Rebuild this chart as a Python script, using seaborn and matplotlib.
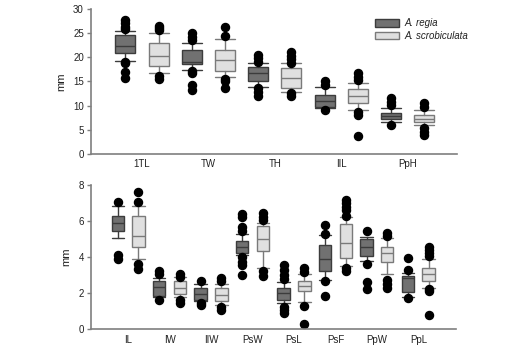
import numpy as np
import matplotlib
matplotlib.use("Agg")
import matplotlib.pyplot as plt
from matplotlib.patches import Patch
import seaborn as sns

sns.set_style("white")
plt.rcParams['font.family'] = ['Liberation Sans', 'DejaVu Sans']

# ---- top panel: box summaries (mm) ----
top_cats = ['1TL', 'TW', 'TH', 'IIL', 'PpH']

regia_top_lo = [19.2, 17.4, 13.9, 9.5, 6.7]
regia_top_q1 = [20.8, 18.5, 15.0, 9.8, 7.2]
regia_top_med = [22.3, 19.1, 16.7, 11.0, 7.9]
regia_top_q3 = [24.5, 21.4, 17.9, 12.2, 8.5]
regia_top_hi = [25.4, 23.0, 18.7, 13.9, 9.5]
regia_top_out = [[25.8, 26.3, 27.0, 27.6, 19.1, 18.7, 17.0, 15.7],
                 [23.5, 24.2, 24.9, 17.1, 16.8, 14.3, 13.2],
                 [19.1, 19.8, 20.5, 13.6, 12.9, 11.9],
                 [14.3, 15.0, 9.1],
                 [10.1, 10.8, 11.5, 6.0]]

scrob_top_lo = [16.8, 15.9, 12.9, 9.1, 6.0]
scrob_top_q1 = [18.1, 17.2, 13.7, 10.5, 6.5]
scrob_top_med = [20.3, 19.4, 15.7, 11.9, 7.2]
scrob_top_q3 = [22.9, 21.5, 17.7, 13.4, 8.1]
scrob_top_hi = [25.0, 23.8, 18.8, 14.6, 9.1]
scrob_top_out = [[25.6, 26.1, 26.5, 16.2, 15.5],
                 [26.3, 24.3, 15.5, 15.0, 13.6],
                 [21.0, 20.3, 19.6, 18.9, 12.6, 11.9],
                 [16.7, 16.0, 15.3, 8.7, 8.1, 3.8],
                 [10.5, 9.8, 5.3, 4.6, 3.9]]

# ---- bottom panel ----
bot_cats = ['IL', 'IW', 'IIW', 'PsW', 'PsL', 'PsF', 'PpW', 'PpL']

regia_bot_lo = [5.03, 1.80, 1.58, 4.11, 1.44, 2.73, 3.78, 1.80]
regia_bot_q1 = [5.45, 1.87, 1.62, 4.20, 1.62, 3.22, 4.07, 2.05]
regia_bot_med = [5.86, 2.32, 1.95, 4.57, 1.99, 3.89, 4.53, 2.82]
regia_bot_q3 = [6.26, 2.65, 2.31, 4.89, 2.27, 4.66, 4.98, 2.95]
regia_bot_hi = [6.84, 2.86, 2.51, 5.28, 2.63, 5.22, 5.12, 3.13]
regia_bot_out = [[7.04, 4.10, 3.90],
                 [3.22, 3.04, 1.60],
                 [2.69, 1.44, 1.36],
                 [6.38, 6.20, 5.64, 5.46, 3.98, 3.74, 3.56, 3.00],
                 [3.56, 3.28, 3.00, 2.80, 1.25, 1.07, 0.88],
                 [5.77, 5.25, 2.70, 1.86],
                 [5.44, 3.59, 2.63, 2.21],
                 [3.96, 3.28, 1.71]]

scrob_bot_lo = [3.88, 1.77, 1.36, 3.41, 1.53, 3.52, 3.04, 2.30]
scrob_bot_q1 = [4.53, 1.95, 1.58, 4.33, 2.12, 3.96, 3.70, 2.69]
scrob_bot_med = [5.17, 2.30, 1.92, 4.98, 2.41, 4.79, 4.20, 3.04]
scrob_bot_q3 = [6.26, 2.65, 2.31, 5.71, 2.69, 5.81, 4.53, 3.37]
scrob_bot_hi = [6.84, 2.87, 2.51, 5.90, 3.04, 6.19, 5.03, 3.87]
scrob_bot_out = [[7.57, 7.04, 3.63, 3.34],
                 [3.06, 2.92, 1.62, 1.48],
                 [2.85, 2.66, 1.25, 1.05],
                 [6.41, 6.23, 6.04, 3.22, 2.95],
                 [3.37, 3.15, 1.31, 0.28],
                 [7.15, 6.97, 6.78, 6.60, 6.25, 3.37, 3.22],
                 [5.34, 5.15, 2.73, 2.51, 2.30],
                 [4.57, 4.39, 4.20, 4.05, 2.23, 2.10, 0.79]]

species = ['A. regia', 'A. scrobiculata']
fills = ['#717171', '#e0e0e0']
edges = ['#3c3c3c', '#7a7a7a']
axis_col = '#7f7f7f'


def make_stats(lo, q1, med, q3, hi, out):
    return [dict(whislo=a, q1=b, med=c, q3=d, whishi=e, fliers=f)
            for a, b, c, d, e, f in zip(lo, q1, med, q3, hi, out)]


def draw_panel(ax, cats, groups, ylim, yticks):
    x = np.arange(len(cats))
    for k, (stats, off) in enumerate(zip(groups, [-0.25, 0.25])):
        ax.bxp(stats, positions=x + off, widths=0.3, patch_artist=True,
               capwidths=0.3, manage_ticks=False,
               boxprops=dict(facecolor=fills[k], edgecolor=edges[k], linewidth=1),
               medianprops=dict(color=edges[k], linewidth=1),
               whiskerprops=dict(color=edges[k], linewidth=1),
               capprops=dict(color=edges[k], linewidth=1),
               flierprops=dict(marker='o', markerfacecolor='black',
                               markeredgecolor='black', markersize=5.8))
    ax.set_xticks(x)
    ax.set_xticklabels(cats)
    ax.set_ylim(*ylim)
    ax.set_yticks(yticks)
    ax.set_ylabel('mm', fontsize=8, color='#222222', labelpad=5)
    sns.despine(ax=ax)
    for s in ['left', 'bottom']:
        ax.spines[s].set_color(axis_col)
        ax.spines[s].set_linewidth(1.2)
    ax.tick_params(axis='x', length=0, pad=4, labelsize=7, colors='#222222')
    ax.tick_params(axis='y', length=3, width=1, color=axis_col, pad=2,
                   labelsize=7, labelcolor='#222222', left=True)


fig = plt.figure(figsize=(5.28, 3.53), dpi=100)
ax1 = fig.add_axes([0.172, 0.564, 0.693, 0.411])
ax2 = fig.add_axes([0.172, 0.067, 0.691, 0.410])

draw_panel(ax1, top_cats,
           [make_stats(regia_top_lo, regia_top_q1, regia_top_med, regia_top_q3, regia_top_hi, regia_top_out),
            make_stats(scrob_top_lo, scrob_top_q1, scrob_top_med, scrob_top_q3, scrob_top_hi, scrob_top_out)],
           (0, 30), [0, 5, 10, 15, 20, 25, 30])
ax1.set_xlim(-0.77, 4.74)

draw_panel(ax2, bot_cats,
           [make_stats(regia_bot_lo, regia_bot_q1, regia_bot_med, regia_bot_q3, regia_bot_hi, regia_bot_out),
            make_stats(scrob_bot_lo, scrob_bot_q1, scrob_bot_med, scrob_bot_q3, scrob_bot_hi, scrob_bot_out)],
           (0, 8), [0, 2, 4, 6, 8])
ax2.set_xlim(-0.9, 7.9)

handles = [Patch(facecolor=fills[i], edgecolor=edges[i], label=species[i]) for i in range(2)]
leg = fig.legend(handles=handles, loc='upper left', bbox_to_anchor=(0.710, 0.948),
                 frameon=False, fontsize=7, handlelength=2.5, handleheight=0.75,
                 labelspacing=0.3, handletextpad=0.5, borderpad=0, borderaxespad=0)
for t in leg.get_texts():
    t.set_fontstyle('italic')
    t.set_color('#222222')

fig.savefig('out.png', dpi=100)
